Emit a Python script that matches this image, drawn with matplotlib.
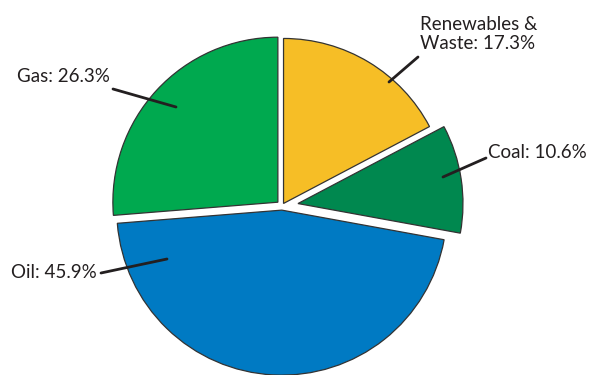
import matplotlib.pyplot as plt

# energy mix shares (%), clockwise from the top
labels = ['Renewables &\nWaste', 'Coal', 'Oil', 'Gas']
shares = [17.3, 10.6, 45.9, 26.3]
colors = ['#F6BE26', '#00884F', '#007AC3', '#00A94F']
explode = [0.018, 0.098, 0.025, 0.034]  # fraction of radius

W, H = 590, 375
fig = plt.figure(figsize=(W / 100, H / 100), dpi=100)
ax = fig.add_axes([0, 0, 1, 1])

cx, cy, r = 282, H - 206, 165
# pie's explode is in data units, so scale by radius
wedges, _ = ax.pie(shares, colors=colors, explode=[e * r for e in explode],
                   startangle=90, counterclock=False, center=(cx, cy), radius=r,
                   wedgeprops={'edgecolor': '#333333', 'linewidth': 0.9})

ax.set_xlim(0, W)
ax.set_ylim(0, H)
ax.set_aspect('equal')
ax.axis('off')

txt = dict(fontsize=13.5, color='#231F20', family='Lato')
line = dict(arrowstyle='-', color='#231F20', lw=2, shrinkA=0, shrinkB=0)

# (label text, point in wedge, text position, alignment, line start)
callouts = [
    (f'{labels[0]}: {shares[0]}%', (389, 82), (420, 34), 'left', (418, 57)),
    (f'{labels[1]}: {shares[1]}%', (443, 177), (488, 153), 'left', (486, 158)),
    (f'{labels[2]}: {shares[2]}%', (167, 259), (97, 272), 'right', (101, 273)),
    (f'{labels[3]}: {shares[3]}%', (176, 107), (110, 77), 'right', (113, 89)),
]
for text, xy, xt, ha, start in callouts:
    ax.annotate('', xy=(xy[0], H - xy[1]), xytext=(start[0], H - start[1]),
                arrowprops=line)
    ax.text(xt[0], H - xt[1], text, ha=ha, va='center', linespacing=1.2, **txt)

fig.savefig('out.png', dpi=100)
